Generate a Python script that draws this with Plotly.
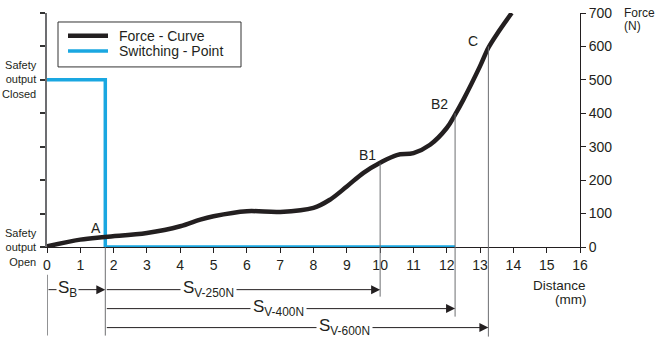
import plotly.graph_objects as go

# ---------------- data ----------------
distance_mm = [0, 1, 1.75, 3, 4, 4.6, 5, 6, 7, 8, 8.5, 9, 9.5, 10, 10.5, 11, 11.5,
               12, 12.25, 12.5, 13, 13.25, 13.5, 13.95]
force_N = [2, 22, 30, 42, 62, 82, 92, 107, 105, 117, 142, 181, 222, 252, 275, 281, 306,
           356, 396, 441, 541, 596, 636, 700]

switch_x = [0, 1.75, 1.75, 12.25]
switch_y = [500, 500, 0, 0]

x_ticks = list(range(0, 17))
y_ticks = [0, 100, 200, 300, 400, 500, 600, 700]

point_names = ["A", "B1", "B2", "C"]
point_x = [1.75, 10, 12.25, 13.25]
point_force = [30, 250, 400, 600]

s_b_end = 1.75
s_labels = ["S<sub>V-250N</sub>", "S<sub>V-400N</sub>", "S<sub>V-600N</sub>"]
s_ends = [10, 12.25, 13.25]

# ---------------- layout geometry (pixels) ----------------
WIDTH, HEIGHT = 659, 338
L, T, R, B = 47, 13, 580, 247.3
PW, PH = R - L, B - T

def px(xpix):
    return (xpix - L) / PW

def py(ypix):
    return (B - ypix) / PH

BLACK = "#231f20"
BLUE = "#1aa7e1"
GRAY = "#6d6e71"
FONT = "Liberation Sans, Arial, sans-serif"

fig = go.Figure()

fig.add_trace(go.Scatter(
    x=switch_x, y=switch_y, mode="lines", name="Switching - Point",
    line=dict(color=BLUE, width=3.5), cliponaxis=False, showlegend=False,
    yaxis="y"))

fig.add_trace(go.Scatter(
    x=distance_mm, y=force_N, mode="lines", name="Force - Curve",
    line=dict(color=BLACK, width=4.5, shape="spline", smoothing=1),
    cliponaxis=False, showlegend=False, yaxis="y2"))

shapes = []
annotations = []

# vertical guide lines from curve down below the axis
bottoms = {10: 297, 12.25: 317, 13.25: 337}
for xv, fv in zip(point_x[1:], point_force[1:]):
    shapes.append(dict(type="line", xref="x", yref="paper",
                       x0=xv, x1=xv, y0=fv / 700, y1=py(bottoms[xv]),
                       line=dict(color=GRAY, width=1)))
# line at switching point below axis
shapes.append(dict(type="line", xref="x", yref="paper", x0=s_b_end, x1=s_b_end,
                   y0=0, y1=py(336), line=dict(color=GRAY, width=1)))
# line at zero below axis
shapes.append(dict(type="line", xref="x", yref="paper", x0=0, x1=0,
                   y0=py(275), y1=py(336), line=dict(color=GRAY, width=1.5)))

# arrows
arrow_rows = [290, 290, 309, 328]
arrow_starts = [0, s_b_end, s_b_end, s_b_end]
arrow_ends = [s_b_end] + s_ends
for xs, xe, yr in zip(arrow_starts, arrow_ends, arrow_rows):
    annotations.append(dict(xref="x", yref="paper", x=xe, y=py(yr),
                            axref="x", ayref="pixel", ax=xs, ay=0,
                            text="", showarrow=True, arrowhead=2, arrowsize=1.8,
                            arrowwidth=1, arrowcolor=BLACK, standoff=0, startstandoff=0))

# arrow labels (white background masks the line)
annotations.append(dict(xref="x", yref="paper", x=(67.5 - L) / PW * 16, y=py(289),
                        text="S<sub>B</sub>", showarrow=False, bgcolor="white",
                        font=dict(size=17, color=BLACK, family=FONT), borderpad=1,
                        xanchor="center", yanchor="middle"))
label_centers = [208.5, 278.5, 344]
for txt, cx, yr in zip(s_labels, label_centers, arrow_rows[1:]):
    annotations.append(dict(xref="x", yref="paper", x=(cx - L) / PW * 16, y=py(yr - 1),
                            text=txt, showarrow=False, bgcolor="white",
                            font=dict(size=17, color=BLACK, family=FONT), borderpad=2,
                            xanchor="center", yanchor="middle"))

# point labels
label_offsets = [(-9, 9), (-13, 8), (-16, 9), (-15, 5)]
for name, xv, fv, (dx, dy) in zip(point_names, point_x, point_force, label_offsets):
    annotations.append(dict(xref="x", yref="y2", x=xv, y=fv, text=name, showarrow=False,
                            xanchor="center", yanchor="middle", xshift=dx, yshift=dy,
                            font=dict(size=14, color=BLACK, family=FONT)))

# left state labels
annotations.append(dict(xref="x", yref="y", x=0, y=500, xshift=-8, text="Safety<br>output<br>Closed",
                        showarrow=False, xanchor="right", yanchor="middle", align="right",
                        font=dict(size=11, color=BLACK, family=FONT)))
annotations.append(dict(xref="x", yref="y", x=0, y=0, xshift=-8, text="Safety<br>output<br>Open",
                        showarrow=False, xanchor="right", yanchor="middle", align="right",
                        font=dict(size=11, color=BLACK, family=FONT)))

# axis titles
annotations.append(dict(xref="paper", yref="paper", x=1, y=py(286), xshift=8, text="Distance",
                        showarrow=False, xanchor="right", yanchor="middle",
                        font=dict(size=13.5, color=BLACK, family=FONT)))
annotations.append(dict(xref="paper", yref="paper", x=1, y=py(300), xshift=8, text="(mm)",
                        showarrow=False, xanchor="right", yanchor="middle",
                        font=dict(size=13.5, color=BLACK, family=FONT)))
annotations.append(dict(xref="paper", yref="paper", x=px(622), y=py(13), text="Force",
                        showarrow=False, xanchor="left", yanchor="middle",
                        font=dict(size=12, color=BLACK, family=FONT)))
annotations.append(dict(xref="paper", yref="paper", x=px(622), y=py(26), text="(N)",
                        showarrow=False, xanchor="left", yanchor="middle",
                        font=dict(size=12, color=BLACK, family=FONT)))

# manual legend
shapes.append(dict(type="rect", xref="paper", yref="paper", x0=px(58), x1=px(241),
                   y0=py(67), y1=py(22), line=dict(color="#333333", width=1),
                   fillcolor="white"))
legend_items = [("Force - Curve", BLACK, 35.7, 4.5), ("Switching - Point", BLUE, 51, 3.5)]
for name, col, yy, w in legend_items:
    shapes.append(dict(type="line", xref="paper", yref="paper", x0=px(68), x1=px(108),
                       y0=py(yy), y1=py(yy), line=dict(color=col, width=w)))
    annotations.append(dict(xref="paper", yref="paper", x=px(117), y=py(yy), text=name,
                            showarrow=False, xanchor="left", yanchor="middle",
                            font=dict(size=14, color=BLACK, family=FONT)))

fig.update_layout(
    width=WIDTH, height=HEIGHT, autosize=False,
    margin=dict(l=L, r=WIDTH - R, t=T, b=HEIGHT - B, pad=0, autoexpand=False),
    paper_bgcolor="white", plot_bgcolor="white",
    showlegend=False,
    font=dict(family=FONT, color=BLACK, size=14),
    xaxis=dict(range=[0, 16], tickvals=x_ticks, ticktext=[str(v) for v in x_ticks],
               showgrid=False, zeroline=False, showline=True, linecolor=BLACK, linewidth=1,
               ticks="outside", ticklen=5, tickcolor=BLACK, tickwidth=1, automargin=False,
               tickfont=dict(size=14, color=BLACK, family=FONT)),
    yaxis=dict(range=[0, 700], tickvals=y_ticks, showticklabels=False, automargin=False,
               showgrid=False, zeroline=False, showline=True, linecolor=GRAY, linewidth=2,
               ticks="outside", ticklen=5, tickcolor="#333333", tickwidth=1.5),
    yaxis2=dict(range=[0, 700], tickvals=y_ticks, overlaying="y", side="right",
                showgrid=False, zeroline=False, showline=True, linecolor=BLACK, linewidth=1,
                ticks="outside", ticklen=5, tickcolor=BLACK, tickwidth=1, automargin=False,
                tickfont=dict(size=14, color=BLACK, family=FONT)),
    shapes=shapes, annotations=annotations,
)

fig.write_html("out.html", config={"displayModeBar": False},
               post_script="document.body.style.margin='0';document.body.style.overflow='hidden';")
